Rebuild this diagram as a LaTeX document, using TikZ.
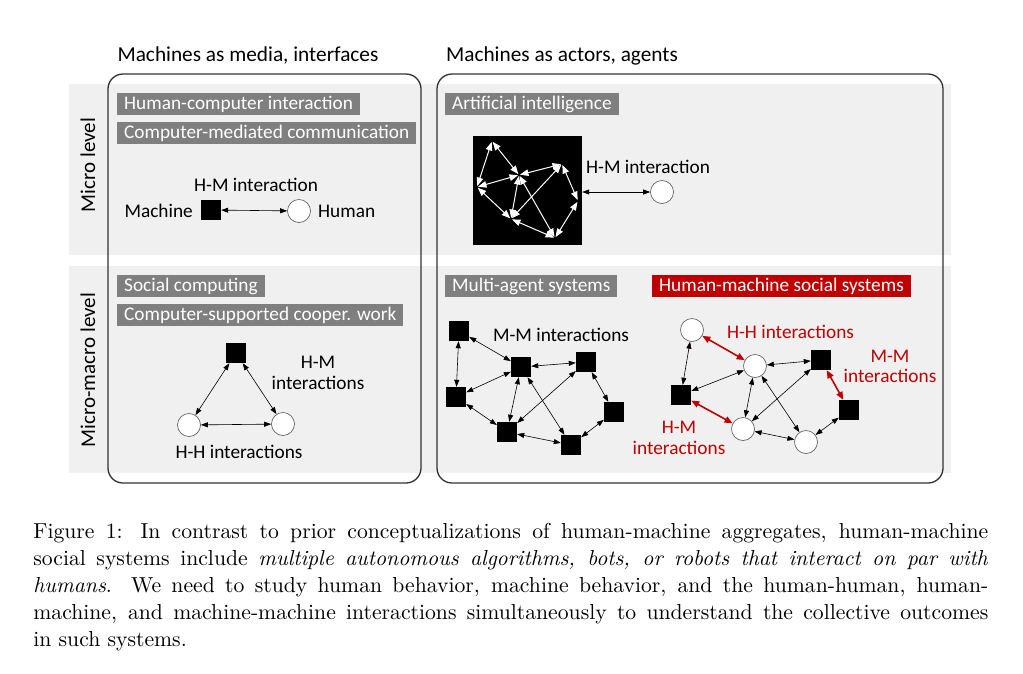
\documentclass[tikz,border=0pt]{standalone}
\usepackage{fontspec}
\newfontfamily\calfont{Carlito}
\usetikzlibrary{arrows.meta}
\definecolor{bandgray}{HTML}{F0F0F0}
\definecolor{labgray}{HTML}{7F7F7F}
\definecolor{hmred}{HTML}{C00000}
\definecolor{boxline}{HTML}{333333}
\definecolor{circline}{HTML}{666666}
\tikzset{
  sq/.style={fill=black, draw=none, minimum size=20pt, inner sep=0pt},
  hum/.style={circle, draw=circline, fill=white, line width=0.7pt, minimum size=23pt, inner sep=0pt},
  lab/.style={fill=labgray, text=white, font=\calfont\fontsize{19.3}{22}\selectfont, inner xsep=7pt, inner ysep=0pt, minimum height=22pt, text height=13.5pt, text depth=3.5pt, anchor=north west},
  txt/.style={font=\calfont\fontsize{19.3}{22}\selectfont, inner sep=0pt},
  rtxt/.style={txt, text=hmred},
  head/.style={font=\calfont\fontsize{21.3}{25}\selectfont, inner sep=0pt, anchor=base},
  side/.style={font=\calfont\fontsize{21}{25}\selectfont, inner sep=0pt, rotate=90},
  arr/.style={{Triangle[length=7pt,width=5pt]}-{Triangle[length=7pt,width=5pt]}, line width=0.6pt, black},
  rarr/.style={{Triangle[length=8pt,width=6.5pt]}-{Triangle[length=8pt,width=6.5pt]}, line width=1.6pt, hmred},
  warr/.style={{Triangle[length=8.5pt,width=6.5pt]}-{Triangle[length=8.5pt,width=6.5pt]}, line width=1pt, white, shorten <=1pt, shorten >=1pt},
  panel/.style={draw=boxline, line width=1.3pt, rounded corners=15pt},
}
\begin{document}
\begin{tikzpicture}[x=1pt,y=-1pt]
\useasboundingbox (0,0) rectangle (1023,673);
\fill[white] (0,0) rectangle (1023,673);
% bands
\fill[bandgray] (69,84) rectangle (951,255);
\fill[bandgray] (69,266) rectangle (951,473);
% panels
\draw[panel] (108,74) rectangle (421,483);
\draw[panel] (437,74) rectangle (943,483);
% headers
\node[head] (h1t) at (248,61) {Machines as media, interfaces};
\node[head] (h2t) at (562,61) {Machines as actors, agents};
\node[side] (micro) at (88,165) {Micro level};
\node[side] (macro) at (88,370) {Micro-macro level};
% labels
\node[lab] (hci) at (117,93) {Human-computer interaction};
\node[lab] (cmc) at (117,122) {Computer-mediated communication};
\node[lab] (sc) at (117,275) {Social computing};
\node[lab] (cscw) at (117,304) {Computer-supported cooper. work};
\node[lab] (ai) at (445,93) {Artificial intelligence};
\node[lab] (mas) at (445,275) {Multi-agent systems};
\node[lab, fill=hmred] (hmss) at (652,275) {Human-machine social systems};
% micro left
\node[txt] (hmint) at (256,185) {H-M interaction};
\node[sq] (m1) at (211,210) {};
\node[hum] (hu1) at (299,211) {};
\node[txt, anchor=east] (mlab) at (193,211) {Machine};
\node[txt, anchor=west] (hlab) at (318,211) {Human};
\draw[arr] (m1) -- (hu1);
% macro left
\node[sq] (m2) at (236,353) {};
\node[hum] (hu2) at (189,425) {};
\node[hum] (hu3) at (283,424) {};
\draw[arr] (m2) -- (hu2);
\draw[arr] (m2) -- (hu3);
\draw[arr] (hu2) -- (hu3);
\node[txt] (hmt1) at (318,362) {H-M};
\node[txt] (hmt2) at (318,383) {interactions};
\node[txt] (hht) at (239,452) {H-H interactions};
% AI
\node[fill=black, minimum width=109pt, minimum height=109pt, inner sep=0pt] (aibox) at (527.5,190.5) {};
\coordinate (A) at (492,141);
\coordinate (B) at (519,175);
\coordinate (C) at (477,187);
\coordinate (D) at (562,164);
\coordinate (E) at (578,201);
\coordinate (F) at (511,219);
\coordinate (G) at (555,238);
\draw[warr] (A) -- (C);
\draw[warr] (A) -- (B);
\draw[warr] (C) -- (B);
\draw[warr] (B) -- (F);
\draw[warr] (C) -- (F);
\draw[warr] (B) -- (D);
\draw[warr] (D) -- (F);
\draw[warr] (B) -- (G);
\draw[warr] (D) -- (E);
\draw[warr] (E) -- (G);
\draw[warr] (F) -- (G);
\node[hum] (hu4) at (662,192) {};
\draw[arr] (aibox.east |- hu4) -- (hu4);
\node[txt] (hmint2) at (648,167) {H-M interaction};
% MAS
\node[sq] (s1) at (459,331) {};
\node[sq] (s2) at (521,367) {};
\node[sq] (s3) at (586,362) {};
\node[sq] (s4) at (456,397) {};
\node[sq] (s5) at (614,412) {};
\node[sq] (s6) at (507,432) {};
\node[sq] (s7) at (571,445) {};
\node[txt] (mmt) at (561,335) {M-M interactions};
\draw[arr] (s1) -- (s2);
\draw[arr] (s1) -- (s4);
\draw[arr] (s2) -- (s3);
\draw[arr] (s2) -- (s4);
\draw[arr] (s2) -- (s6);
\draw[arr] (s2) -- (s7);
\draw[arr] (s3) -- (s6);
\draw[arr] (s3) -- (s5);
\draw[arr] (s4) -- (s6);
\draw[arr] (s6) -- (s7);
\draw[arr] (s5) -- (s7);
% HMSS
\node[hum] (c1) at (692,330) {};
\node[hum] (c2) at (755,366) {};
\node[sq] (q1) at (821,360) {};
\node[sq] (q2) at (681,395) {};
\node[sq] (q3) at (849,410) {};
\node[hum] (c3) at (743,429) {};
\node[hum] (c4) at (806,442) {};
\draw[arr] (c1) -- (q2);
\draw[arr] (c2) -- (q1);
\draw[arr] (c2) -- (q2);
\draw[arr] (c2) -- (c3);
\draw[arr] (c2) -- (c4);
\draw[arr] (q1) -- (c3);
\draw[arr] (c3) -- (c4);
\draw[arr] (q3) -- (c4);
\draw[rarr] (c1) -- (c2);
\draw[rarr] (q1) -- (q3);
\draw[rarr] (q2) -- (c3);
\node[rtxt] (hht2) at (790.5,332) {H-H interactions};
\node[rtxt] (mmr1) at (890,356) {M-M};
\node[rtxt] (mmr2) at (890,376) {interactions};
\node[rtxt] (hmr1) at (679,427) {H-M};
\node[rtxt] (hmr2) at (679,448) {interactions};
% caption
\begin{scope}[shift={(33,523)}]
\node[anchor=north west, inner sep=0pt, scale=1.98, transform shape, text width=482.3pt, align=justify, font=\fontsize{10.95}{13.6}\selectfont] (cap) at (0,0) {Figure 1: In contrast to prior conceptualizations of human-machine aggregates, human-machine\linebreak social systems include \textit{multiple autonomous algorithms, bots, or robots that interact on par with}\linebreak \textit{humans}. We need to study human behavior, machine behavior, and the human-human, human-\linebreak machine, and machine-machine interactions simultaneously to understand the collective outcomes\linebreak in such systems.};
\end{scope}
\end{tikzpicture}
\end{document}
